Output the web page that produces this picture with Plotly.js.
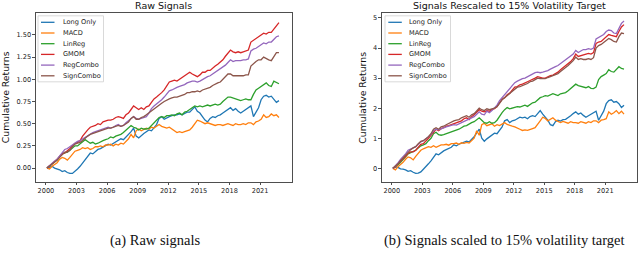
<!DOCTYPE html>
<html>
<head>
<meta charset="utf-8">
<script src="https://cdn.plot.ly/plotly-3.0.1.min.js"></script>
<style>html,body{margin:0;padding:0;background:#fff;}#chart{width:640px;height:255px;}</style>
</head>
<body>
<div id="chart"></div>
<script>
// ---------- DATA ----------
const years = [
 2000.1,2000.35,2000.6,2000.85, 2001.1,2001.35,2001.6,2001.85, 2002.1,2002.35,2002.6,2002.85,
 2003.1,2003.35,2003.6,2003.85, 2004.1,2004.35,2004.6,2004.85, 2005.1,2005.35,2005.6,2005.85,
 2006.1,2006.35,2006.6,2006.85, 2007.1,2007.35,2007.6,2007.85, 2008.1,2008.35,2008.6,2008.85,
 2009.1,2009.35,2009.6,2009.85, 2010.1,2010.35,2010.6,2010.85, 2011.1,2011.35,2011.6,2011.85,
 2012.1,2012.35,2012.6,2012.85, 2013.1,2013.35,2013.6,2013.85, 2014.1,2014.35,2014.6,2014.85,
 2015.1,2015.35,2015.6,2015.85, 2016.1,2016.35,2016.6,2016.85, 2017.1,2017.35,2017.6,2017.85,
 2018.1,2018.35,2018.6,2018.85, 2019.1,2019.35,2019.6,2019.85, 2020.1,2020.35,2020.6,2020.85,
 2021.1,2021.35,2021.6,2021.85, 2022.1,2022.35,2022.6,2022.85
];
const seriesNames = ["Long Only","MACD","LinReg","GMOM","RegCombo","SignCombo"];
const xTickYears = [2000,2003,2006,2009,2012,2015,2018,2021];
const rawTicks = [0,0.25,0.5,0.75,1.0,1.25,1.5];
const scaledTicks = [0,1,2,3,4,5];
const panelTitles = ["Raw Signals","Signals Rescaled to 15% Volatility Target"];
const captions = ["(a) Raw signals","(b) Signals scaled to 15% volatility target"];
const yTitle = "Cumulative Returns";

// Raw signals
const rawLongOnly = [
 0.00,0.01,0.02,0.00, -0.01,-0.02,-0.04,-0.03, -0.05,-0.06,-0.06,-0.04,
 -0.01,0.02,0.06,0.10, 0.14,0.17,0.16,0.19, 0.21,0.22,0.24,0.25,
 0.27,0.26,0.28,0.30, 0.31,0.33,0.32,0.35, 0.37,0.41,0.45,0.36,
 0.34,0.37,0.39,0.41, 0.43,0.42,0.45,0.49, 0.56,0.58,0.55,0.57,
 0.58,0.59,0.60,0.60, 0.61,0.60,0.62,0.63, 0.63,0.66,0.69,0.64,
 0.62,0.58,0.54,0.52, 0.56,0.58,0.57,0.59, 0.60,0.62,0.64,0.66,
 0.68,0.65,0.67,0.64, 0.62,0.64,0.66,0.69, 0.70,0.58,0.63,0.68,
 0.77,0.81,0.82,0.80, 0.81,0.77,0.74,0.76
];
const rawMACD = [
 0.00,-0.01,0.02,0.04, 0.06,0.10,0.12,0.11, 0.09,0.12,0.16,0.19,
 0.20,0.21,0.23,0.22, 0.23,0.21,0.22,0.24, 0.24,0.25,0.24,0.26,
 0.26,0.27,0.25,0.27, 0.26,0.28,0.27,0.30, 0.33,0.38,0.34,0.42,
 0.44,0.42,0.44,0.45, 0.44,0.46,0.45,0.47, 0.49,0.47,0.46,0.45,
 0.46,0.44,0.42,0.40, 0.41,0.40,0.41,0.42, 0.43,0.46,0.50,0.54,
 0.53,0.51,0.50,0.51, 0.50,0.49,0.48,0.49, 0.49,0.48,0.49,0.50,
 0.49,0.48,0.50,0.49, 0.49,0.50,0.49,0.51, 0.51,0.49,0.52,0.53,
 0.55,0.60,0.57,0.58, 0.61,0.59,0.60,0.57
];
const rawLinReg = [
 0.00,0.02,0.04,0.07, 0.09,0.13,0.16,0.17, 0.18,0.20,0.23,0.25,
 0.25,0.27,0.30,0.32, 0.30,0.28,0.29,0.27, 0.28,0.30,0.31,0.32,
 0.33,0.35,0.34,0.36, 0.37,0.38,0.40,0.43, 0.45,0.48,0.46,0.45,
 0.43,0.45,0.44,0.44, 0.45,0.48,0.52,0.55, 0.57,0.58,0.57,0.59,
 0.59,0.60,0.59,0.61, 0.62,0.60,0.63,0.64, 0.66,0.68,0.70,0.69,
 0.70,0.69,0.70,0.71, 0.70,0.71,0.72,0.71, 0.72,0.75,0.77,0.80,
 0.80,0.79,0.78,0.77, 0.76,0.77,0.78,0.77, 0.77,0.83,0.88,0.90,
 0.92,0.95,0.96,0.93, 0.92,0.98,0.96,0.95
];
const rawGMOM = [
 0.00,0.02,0.05,0.07, 0.10,0.13,0.16,0.17, 0.19,0.22,0.25,0.28,
 0.29,0.31,0.36,0.40, 0.43,0.46,0.47,0.48, 0.50,0.49,0.52,0.53,
 0.54,0.54,0.55,0.57, 0.58,0.57,0.56,0.60, 0.62,0.66,0.70,0.68,
 0.66,0.68,0.66,0.69, 0.70,0.74,0.78,0.80, 0.82,0.85,0.88,0.93,
 0.97,0.98,0.99,0.98, 1.00,1.02,1.04,1.06, 1.08,1.06,1.04,1.03,
 1.05,1.08,1.08,1.10, 1.10,1.13,1.15,1.17, 1.19,1.22,1.26,1.29,
 1.33,1.31,1.30,1.31, 1.30,1.31,1.32,1.33, 1.42,1.44,1.45,1.47,
 1.50,1.52,1.51,1.53, 1.53,1.57,1.61,1.64
];
const rawRegCombo = [
 0.00,0.03,0.06,0.08, 0.10,0.14,0.18,0.21, 0.22,0.24,0.27,0.29,
 0.30,0.31,0.33,0.35, 0.37,0.39,0.40,0.41, 0.42,0.43,0.44,0.45,
 0.46,0.45,0.46,0.48, 0.49,0.47,0.48,0.51, 0.53,0.55,0.58,0.56,
 0.55,0.56,0.57,0.58, 0.62,0.67,0.70,0.72, 0.74,0.77,0.80,0.84,
 0.87,0.88,0.90,0.91, 0.92,0.93,0.94,0.96, 0.97,0.98,0.98,0.97,
 0.98,1.00,1.01,1.03, 1.04,1.06,1.08,1.10, 1.12,1.14,1.16,1.19,
 1.22,1.20,1.21,1.21, 1.21,1.22,1.22,1.23, 1.32,1.34,1.35,1.37,
 1.39,1.41,1.40,1.42, 1.42,1.45,1.48,1.49
];
const rawSignCombo = [
 0.00,0.02,0.04,0.07, 0.09,0.12,0.15,0.18, 0.18,0.20,0.24,0.27,
 0.28,0.29,0.31,0.34, 0.36,0.38,0.39,0.40, 0.41,0.42,0.43,0.44,
 0.45,0.45,0.46,0.47, 0.48,0.47,0.48,0.50, 0.52,0.56,0.58,0.55,
 0.55,0.57,0.58,0.60, 0.62,0.64,0.67,0.69, 0.71,0.73,0.75,0.77,
 0.78,0.79,0.80,0.80, 0.81,0.82,0.83,0.85, 0.85,0.86,0.86,0.87,
 0.86,0.88,0.89,0.90, 0.91,0.93,0.95,0.96, 0.97,1.00,1.03,1.06,
 1.06,1.04,1.04,1.04, 1.04,1.04,1.05,1.05, 1.15,1.18,1.20,1.22,
 1.22,1.25,1.23,1.22, 1.21,1.25,1.30,1.30
];

// Signals rescaled to 15% volatility target
const scaledLongOnly = [
 0.00,0.05,0.03,-0.02, -0.03,-0.05,-0.10,-0.08, -0.13,-0.17,-0.16,-0.12,
 -0.03,0.05,0.15,0.25, 0.38,0.48,0.45,0.52, 0.58,0.62,0.65,0.70,
 0.78,0.75,0.80,0.84, 0.86,0.90,0.88,0.97, 1.05,1.18,1.30,1.00,
 0.90,0.98,1.05,1.12, 1.17,1.15,1.25,1.38, 1.58,1.62,1.52,1.58,
 1.60,1.66,1.70,1.68, 1.70,1.65,1.72,1.75, 1.72,1.82,1.92,1.80,
 1.70,1.60,1.45,1.42, 1.55,1.60,1.57,1.62, 1.63,1.68,1.75,1.82,
 1.88,1.80,1.84,1.76, 1.70,1.75,1.80,1.87, 1.90,1.60,1.75,1.90,
 2.15,2.25,2.28,2.20, 2.22,2.15,2.02,2.10
];
const scaledMACD = [
 0.00,-0.05,0.05,0.12, 0.20,0.30,0.38,0.35, 0.28,0.40,0.50,0.60,
 0.65,0.68,0.72,0.70, 0.75,0.70,0.74,0.78, 0.78,0.80,0.77,0.82,
 0.82,0.84,0.80,0.85, 0.83,0.86,0.84,0.92, 1.00,1.25,1.10,1.45,
 1.50,1.42,1.45,1.48, 1.40,1.45,1.42,1.48, 1.52,1.46,1.42,1.40,
 1.38,1.35,1.30,1.26, 1.28,1.26,1.30,1.32, 1.35,1.45,1.58,1.70,
 1.66,1.58,1.62,1.68, 1.60,1.55,1.52,1.56, 1.53,1.50,1.55,1.52,
 1.52,1.50,1.55,1.52, 1.50,1.55,1.52,1.58, 1.58,1.52,1.60,1.62,
 1.65,1.88,1.80,1.85, 1.92,1.82,1.90,1.80
];
const scaledLinReg = [
 0.00,0.05,0.12,0.20, 0.28,0.38,0.48,0.52, 0.55,0.60,0.68,0.75,
 0.78,0.82,0.92,1.00, 1.15,1.20,1.12,1.10, 1.12,1.15,1.18,1.20,
 1.25,1.28,1.30,1.35, 1.40,1.42,1.48,1.52, 1.55,1.62,1.68,1.60,
 1.52,1.50,1.55,1.50, 1.52,1.60,1.75,1.85, 1.95,2.02,1.98,2.00,
 2.02,2.05,2.04,2.08, 2.10,2.06,2.12,2.18, 2.20,2.28,2.35,2.38,
 2.42,2.40,2.44,2.48, 2.45,2.42,2.48,2.50, 2.52,2.58,2.65,2.72,
 2.80,2.75,2.72,2.70, 2.68,2.72,2.66,2.65, 2.70,2.95,3.05,3.10,
 3.15,3.28,3.22,3.20, 3.30,3.38,3.32,3.30
];
const scaledGMOM = [
 0.00,0.05,0.15,0.25, 0.32,0.40,0.50,0.55, 0.55,0.60,0.70,0.80,
 0.82,0.90,1.00,1.10, 1.22,1.30,1.25,1.32, 1.35,1.40,1.42,1.45,
 1.50,1.52,1.55,1.58, 1.65,1.68,1.62,1.72, 1.78,1.85,1.95,1.90,
 1.88,1.92,1.90,1.95, 1.98,2.05,2.20,2.30, 2.35,2.45,2.50,2.60,
 2.70,2.72,2.78,2.80, 2.85,2.88,2.92,2.95, 3.00,3.05,3.02,3.00,
 3.00,3.05,3.08,3.10, 3.15,3.20,3.28,3.35, 3.40,3.48,3.55,3.65,
 3.80,3.72,3.75,3.78, 3.80,3.82,3.80,3.85, 4.15,4.20,4.22,4.30,
 4.40,4.45,4.42,4.40, 4.38,4.55,4.70,4.78
];
const scaledRegCombo = [
 0.00,0.08,0.18,0.30, 0.38,0.48,0.60,0.65, 0.68,0.72,0.80,0.88,
 0.92,0.98,1.05,1.12, 1.25,1.30,1.28,1.32, 1.35,1.38,1.40,1.42,
 1.45,1.44,1.48,1.52, 1.55,1.58,1.62,1.68, 1.72,1.80,1.88,1.80,
 1.78,1.90,1.85,1.92, 2.00,2.10,2.25,2.35, 2.45,2.55,2.62,2.72,
 2.85,2.90,2.95,2.98, 3.00,3.05,3.10,3.15, 3.18,3.20,3.18,3.20,
 3.22,3.25,3.30,3.35, 3.38,3.42,3.48,3.55, 3.60,3.65,3.72,3.80,
 3.92,3.85,3.90,3.95, 3.95,3.98,3.96,4.00, 4.30,4.35,4.38,4.45,
 4.55,4.60,4.58,4.50, 4.48,4.65,4.82,4.90
];
const scaledSignCombo = [
 0.00,0.06,0.15,0.25, 0.35,0.45,0.55,0.62, 0.68,0.72,0.82,0.90,
 0.92,0.98,1.05,1.15, 1.30,1.35,1.30,1.38, 1.40,1.45,1.50,1.55,
 1.58,1.60,1.62,1.68, 1.72,1.75,1.70,1.78, 1.82,1.90,2.00,1.95,
 1.92,1.98,1.95,1.98, 2.00,2.05,2.18,2.28, 2.35,2.42,2.48,2.55,
 2.65,2.70,2.72,2.75, 2.80,2.82,2.88,2.90, 2.95,3.00,2.98,2.97,
 2.98,3.02,3.05,3.08, 3.10,3.15,3.22,3.28, 3.35,3.42,3.50,3.58,
 3.70,3.62,3.65,3.62, 3.62,3.65,3.62,3.68, 4.00,4.08,4.12,4.18,
 4.25,4.32,4.28,4.22, 4.20,4.38,4.50,4.48
];

// ---------- STYLE / LAYOUT ----------
const palette = ["#1f77b4","#ff7f0e","#2ca02c","#d62728","#9467bd","#8c564b"];
const W = 640, H = 255;
const px = x => x / W;
const py = y => 1 - y / H;
const FONT = "DejaVu Sans";

const rawSeries = [rawLongOnly, rawMACD, rawLinReg, rawGMOM, rawRegCombo, rawSignCombo];
const scaledSeries = [scaledLongOnly, scaledMACD, scaledLinReg, scaledGMOM, scaledRegCombo, scaledSignCombo];

const traces = [];
rawSeries.forEach((s, i) => traces.push({
  type: "scatter", mode: "lines", x: years, y: s, name: seriesNames[i],
  xaxis: "x", yaxis: "y", line: {color: palette[i], width: 1.3}, showlegend: false, hoverinfo: "skip"
}));
scaledSeries.forEach((s, i) => traces.push({
  type: "scatter", mode: "lines", x: years, y: s, name: seriesNames[i],
  xaxis: "x2", yaxis: "y2", line: {color: palette[i], width: 1.3}, showlegend: false, hoverinfo: "skip"
}));

// panel pixel boxes
const panels = [
  {x0: 35.7, x1: 291.7, y0: 13.3, y1: 182},
  {x0: 381.7, x1: 636.7, y0: 13.3, y1: 182}
];

function xAxis(p, anchor) {
  return {
    domain: [px(p.x0), px(p.x1)], anchor: anchor,
    range: [1999.0, 2024.1],
    tickmode: "array", tickvals: xTickYears, ticktext: xTickYears.map(String),
    ticks: "outside", ticklen: 2.5, tickwidth: 0.8, tickcolor: "#222",
    showline: true, mirror: true, linecolor: "#222", linewidth: 0.8,
    showgrid: false, zeroline: false,
    tickfont: {family: FONT, size: 6.6, color: "#222"}
  };
}
function yAxis(p, anchor, range, ticks, fmt) {
  return {
    domain: [py(p.y1), py(p.y0)], anchor: anchor,
    range: range,
    tickmode: "array", tickvals: ticks, tickformat: fmt,
    ticks: "outside", ticklen: 2.5, tickwidth: 0.8, tickcolor: "#222",
    showline: true, mirror: true, linecolor: "#222", linewidth: 0.8,
    showgrid: false, zeroline: false,
    tickfont: {family: FONT, size: 6.6, color: "#222"}
  };
}

const shapes = [];
const annotations = [];

// custom legends (matplotlib style compact box)
const legends = [
  {bx0: 38, bx1: 103.5, by0: 15.8, by1: 81.8, lx0: 41, lx1: 54.5, tx: 60.5, ty: 22.3},
  {bx0: 385, bx1: 450.5, by0: 15.8, by1: 81.8, lx0: 388.3, lx1: 401.8, tx: 407.3, ty: 22.3}
];
legends.forEach(L => {
  shapes.push({type: "rect", xref: "paper", yref: "paper",
    x0: px(L.bx0), x1: px(L.bx1), y0: py(L.by1), y1: py(L.by0),
    fillcolor: "rgba(255,255,255,0.85)", line: {color: "#cfcfcf", width: 0.8}, layer: "above"});
  seriesNames.forEach((n, i) => {
    const yy = L.ty + i * 10.7;
    shapes.push({type: "line", xref: "paper", yref: "paper",
      x0: px(L.lx0), x1: px(L.lx1), y0: py(yy), y1: py(yy),
      line: {color: palette[i], width: 1.3}, layer: "above"});
    annotations.push({xref: "paper", yref: "paper", x: px(L.tx), y: py(yy),
      xanchor: "left", yanchor: "middle", showarrow: false, text: n,
      font: {family: FONT, size: 6.6, color: "#222"}});
  });
});

// panel titles
panels.forEach((p, i) => {
  annotations.push({xref: "paper", yref: "paper", x: px((p.x0 + p.x1) / 2), y: py(5.2),
    xanchor: "center", yanchor: "middle", showarrow: false, text: panelTitles[i],
    font: {family: FONT, size: 9.5, color: "#111"}});
});
// y-axis titles
[{x: 5.5}, {x: 363}].forEach(t => {
  annotations.push({xref: "paper", yref: "paper", x: px(t.x), y: py(97.7),
    xanchor: "center", yanchor: "middle", showarrow: false, text: yTitle, textangle: -90,
    font: {family: FONT, size: 9.3, color: "#111"}});
});
// captions
[{x: 155}, {x: 504}].forEach((c, i) => {
  annotations.push({xref: "paper", yref: "paper", x: px(c.x), y: py(240),
    xanchor: "center", yanchor: "middle", showarrow: false, text: captions[i],
    font: {family: "Liberation Serif", size: 14.5, color: "#111"}});
});

const layout = {
  width: W, height: H,
  margin: {l: 0, r: 0, t: 0, b: 0},
  paper_bgcolor: "#fff", plot_bgcolor: "#fff",
  showlegend: false,
  xaxis: xAxis(panels[0], "y"),
  yaxis: yAxis(panels[0], "x", [-0.157, 1.744], rawTicks, ".2f"),
  xaxis2: xAxis(panels[1], "y2"),
  yaxis2: yAxis(panels[1], "x2", [-0.455, 5.156], scaledTicks, "d"),
  shapes: shapes,
  annotations: annotations
};

Plotly.newPlot("chart", traces, layout, {staticPlot: true, displayModeBar: false});
</script>
</body>
</html>
